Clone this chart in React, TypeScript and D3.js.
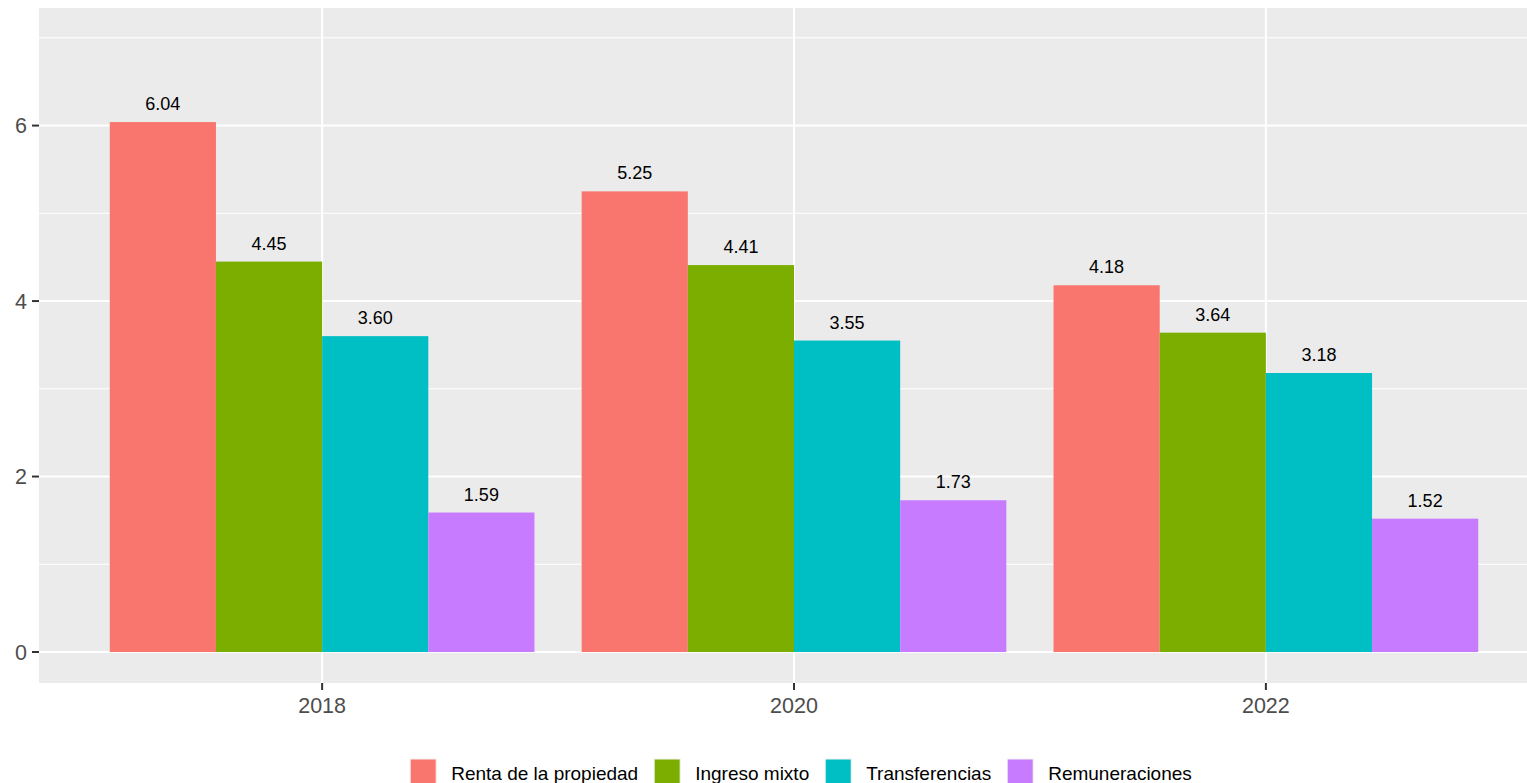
import React, { useRef, useEffect } from 'react';
import * as d3 from 'd3';

// Data
const years = ['2018', '2020', '2022'];
const series = ['Renta de la propiedad', 'Ingreso mixto', 'Transferencias', 'Remuneraciones'];
const colors = ['#F8766D', '#7CAE00', '#00BFC4', '#C77CFF'];
const renta = [6.04, 5.25, 4.18];
const ingreso = [4.45, 4.41, 3.64];
const transferencias = [3.6, 3.55, 3.18];
const remuneraciones = [1.59, 1.73, 1.52];
const yTicks = [0, 2, 4, 6];
const yMinor = [1, 3, 5, 7];

const values = [renta, ingreso, transferencias, remuneraciones];

const W = 1527;
const H = 783;
const panel = { left: 39, right: 1549, top: 8, bottom: 683 };
const FONT = 'Liberation Sans, Arial, sans-serif';

const App: React.FC = () => {
  const svgRef = useRef<SVGSVGElement | null>(null);

  useEffect(() => {
    if (!svgRef.current) return;
    const svg = d3.select(svgRef.current);
    svg.selectAll('*').remove();

    const x = d3.scalePoint<string>().domain(years).range([panel.left, panel.right]).padding(0.6);
    const groupW = x.step() * 0.9;
    const inner = d3.scaleBand<string>().domain(series).range([-groupW / 2, groupW / 2]);
    const y = d3.scaleLinear().domain([-0.353, 7.34]).range([panel.bottom, panel.top]);

    // Panel background
    svg
      .append('rect')
      .attr('x', panel.left)
      .attr('y', panel.top)
      .attr('width', panel.right - panel.left)
      .attr('height', panel.bottom - panel.top)
      .attr('fill', '#EBEBEB');

    // Minor grid
    svg
      .append('g')
      .selectAll('line')
      .data(yMinor)
      .enter()
      .append('line')
      .attr('x1', panel.left)
      .attr('x2', panel.right)
      .attr('y1', (d) => y(d))
      .attr('y2', (d) => y(d))
      .attr('stroke', '#fff')
      .attr('stroke-width', 1);

    // Major grid
    svg
      .append('g')
      .selectAll('line')
      .data(yTicks)
      .enter()
      .append('line')
      .attr('x1', panel.left)
      .attr('x2', panel.right)
      .attr('y1', (d) => y(d))
      .attr('y2', (d) => y(d))
      .attr('stroke', '#fff')
      .attr('stroke-width', 2);

    svg
      .append('g')
      .selectAll('line')
      .data(years)
      .enter()
      .append('line')
      .attr('x1', (d) => x(d)!)
      .attr('x2', (d) => x(d)!)
      .attr('y1', panel.top)
      .attr('y2', panel.bottom)
      .attr('stroke', '#fff')
      .attr('stroke-width', 2);

    // Bars
    const flat = years.flatMap((yr, i) => series.map((s, j) => ({ yr, s, j, v: values[j][i] })));

    svg
      .append('g')
      .selectAll('rect')
      .data(flat)
      .enter()
      .append('rect')
      .attr('x', (d) => x(d.yr)! + inner(d.s)!)
      .attr('width', inner.bandwidth())
      .attr('y', (d) => y(d.v))
      .attr('height', (d) => y(0) - y(d.v))
      .attr('fill', (d) => colors[d.j]);

    // Value labels
    svg
      .append('g')
      .selectAll('text')
      .data(flat)
      .enter()
      .append('text')
      .attr('x', (d) => x(d.yr)! + inner(d.s)! + inner.bandwidth() / 2)
      .attr('y', (d) => y(d.v) - 12)
      .attr('text-anchor', 'middle')
      .attr('font-family', FONT)
      .attr('font-size', 18)
      .attr('fill', '#000')
      .text((d) => d.v.toFixed(2));

    // Y axis ticks + labels
    const yAxis = svg.append('g');
    yAxis
      .selectAll('line')
      .data(yTicks)
      .enter()
      .append('line')
      .attr('x1', panel.left - 7)
      .attr('x2', panel.left)
      .attr('y1', (d) => y(d))
      .attr('y2', (d) => y(d))
      .attr('stroke', '#333333')
      .attr('stroke-width', 2);
    yAxis
      .selectAll('text')
      .data(yTicks)
      .enter()
      .append('text')
      .attr('x', panel.left - 12)
      .attr('y', (d) => y(d))
      .attr('dy', '0.36em')
      .attr('text-anchor', 'end')
      .attr('font-family', FONT)
      .attr('font-size', 21.5)
      .attr('fill', '#4D4D4D')
      .text((d) => d);

    // X axis ticks + labels
    const xAxis = svg.append('g');
    xAxis
      .selectAll('line')
      .data(years)
      .enter()
      .append('line')
      .attr('x1', (d) => x(d)!)
      .attr('x2', (d) => x(d)!)
      .attr('y1', panel.bottom)
      .attr('y2', panel.bottom + 7)
      .attr('stroke', '#333333')
      .attr('stroke-width', 2);
    xAxis
      .selectAll('text')
      .data(years)
      .enter()
      .append('text')
      .attr('x', (d) => x(d)!)
      .attr('y', 713)
      .attr('text-anchor', 'middle')
      .attr('font-family', FONT)
      .attr('font-size', 21.5)
      .attr('fill', '#4D4D4D')
      .text((d) => d);

    // Legend (bottom, horizontal)
    const legend = svg.append('g');
    const keySize = 26;
    const items = series.map((s, i) => {
      const g = legend.append('g');
      g.append('rect')
        .attr('x', 0)
        .attr('y', 759)
        .attr('width', keySize)
        .attr('height', keySize)
        .attr('fill', colors[i])
        .attr('stroke', '#F2F2F2')
        .attr('stroke-width', 1);
      const t = g
        .append('text')
        .attr('x', keySize + 15)
        .attr('y', 780)
        .attr('font-family', FONT)
        .attr('font-size', 19)
        .attr('fill', '#000')
        .text(s);
      const tw = (t.node() as SVGTextElement).getComputedTextLength();
      return { g, w: keySize + 15 + tw };
    });
    const gap = 16;
    const total = d3.sum(items, (d) => d.w) + gap * (items.length - 1);
    let cx = 801 - total / 2;
    items.forEach((it) => {
      it.g.attr('transform', `translate(${cx},0)`);
      cx += it.w + gap;
    });
  }, []);

  return (
    <svg
      ref={svgRef}
      width={W}
      height={H}
      style={{ position: 'absolute', left: 0, top: 0, background: '#fff' }}
    />
  );
};

export default App;
